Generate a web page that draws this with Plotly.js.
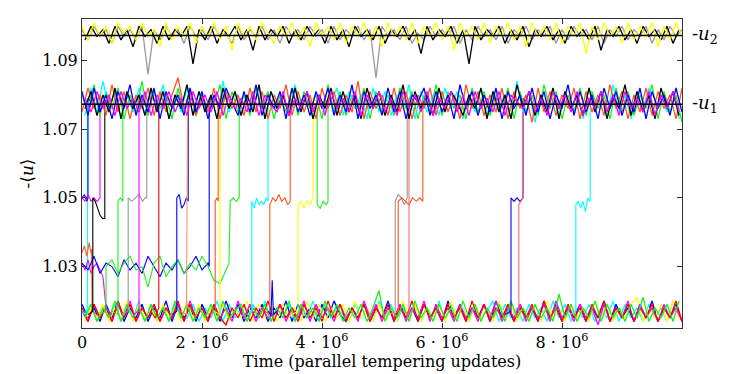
<!DOCTYPE html>
<html>
<head>
<meta charset="utf-8">
<script src="https://cdn.plot.ly/plotly-3.0.1.min.js"></script>
<style>
  body { margin: 0; background: #fff; }
  #myPlot { width: 747px; height: 374px; }
</style>
</head>
<body>
<div id="myPlot"></div>
<script>
// time axis in units of 10^6 parallel tempering updates
const T = [0,0.1,0.2,0.3,0.4,0.5,0.6,0.7,0.8,0.9,
  1,1.1,1.2,1.3,1.4,1.5,1.6,1.7,1.8,1.9,
  2,2.1,2.2,2.3,2.4,2.5,2.6,2.7,2.8,2.9,
  3,3.1,3.2,3.3,3.4,3.5,3.6,3.7,3.8,3.9,
  4,4.1,4.2,4.3,4.4,4.5,4.6,4.7,4.8,4.9,
  5,5.1,5.2,5.3,5.4,5.5,5.6,5.7,5.8,5.9,
  6,6.1,6.2,6.3,6.4,6.5,6.6,6.7,6.8,6.9,
  7,7.1,7.2,7.3,7.4,7.5,7.6,7.7,7.8,7.9,
  8,8.1,8.2,8.3,8.4,8.5,8.6,8.7,8.8,8.9,
  9,9.1,9.2,9.3,9.4,9.5,9.6,9.7,9.8,9.9,10];
// sampling times of the replicas recorded half a step later
const T2 = [0.05,0.15,0.25,0.35,0.45,0.55,0.65,0.75,0.85,0.95,
  1.05,1.15,1.25,1.35,1.45,1.55,1.65,1.75,1.85,1.95,
  2.05,2.15,2.25,2.35,2.45,2.55,2.65,2.75,2.85,2.95,
  3.05,3.15,3.25,3.35,3.45,3.55,3.65,3.75,3.85,3.95,
  4.05,4.15,4.25,4.35,4.45,4.55,4.65,4.75,4.85,4.95,
  5.05,5.15,5.25,5.35,5.45,5.55,5.65,5.75,5.85,5.95,
  6.05,6.15,6.25,6.35,6.45,6.55,6.65,6.75,6.85,6.95,
  7.05,7.15,7.25,7.35,7.45,7.55,7.65,7.75,7.85,7.95,
  8.05,8.15,8.25,8.35,8.45,8.55,8.65,8.75,8.85,8.95,
  9.05,9.15,9.25,9.35,9.45,9.55,9.65,9.75,9.85,9.95];

// reference levels
const u1 = 1.0773;
const u2 = 1.0973;

// -u2 band
const yellowTop = [1.100,1.096,1.101,1.097,1.100,1.095,1.101,1.098,1.100,1.096,
  1.101,1.097,1.099,1.094,1.101,1.096,1.100,1.097,1.101,1.095,
  1.100,1.097,1.101,1.096,1.100,1.093,1.101,1.097,1.100,1.096,
  1.101,1.098,1.095,1.100,1.097,1.101,1.096,1.100,1.094,1.101,
  1.097,1.100,1.096,1.101,1.095,1.100,1.097,1.101,1.096,1.100,
  1.094,1.101,1.097,1.100,1.096,1.101,1.095,1.100,1.097,1.101,
  1.096,1.100,1.093,1.101,1.097,1.100,1.096,1.101,1.095,1.100,
  1.097,1.101,1.096,1.100,1.094,1.101,1.097,1.100,1.096,1.101,
  1.095,1.100,1.097,1.101,1.092,1.100,1.096,1.101,1.097,1.100,
  1.095,1.101,1.096,1.100,1.097,1.101,1.094,1.100,1.096,1.101,1.097];
const blackTop = [1.096,1.100,1.097,1.099,1.095,1.100,1.096,1.099,1.094,1.100,
  1.097,1.099,1.095,1.100,1.096,1.099,1.097,1.100,1.089,1.099,
  1.096,1.100,1.095,1.099,1.097,1.100,1.096,1.099,1.093,1.100,
  1.096,1.099,1.097,1.100,1.095,1.099,1.096,1.100,1.097,1.099,
  1.095,1.100,1.096,1.099,1.094,1.100,1.097,1.099,1.096,1.100,
  1.095,1.099,1.097,1.100,1.096,1.099,1.092,1.100,1.096,1.099,
  1.097,1.100,1.095,1.099,1.089,1.100,1.096,1.099,1.097,1.100,
  1.095,1.099,1.096,1.100,1.094,1.099,1.097,1.100,1.096,1.099,
  1.095,1.100,1.097,1.099,1.096,1.100,1.093,1.099,1.097,1.100,
  1.096,1.099,1.095,1.100,1.097,1.099,1.096,1.100,1.095,1.099];
const grayTop = [1.099,1.096,1.100,1.097,1.099,1.095,1.100,1.097,1.099,1.096,
  1.100,1.086,1.099,1.096,1.100,1.097,1.099,1.095,1.100,1.097,
  1.099,1.096,1.100,1.097,1.098,1.095,1.100,1.096,1.099,1.097,
  1.100,1.096,1.099,1.095,1.100,1.097,1.099,1.096,1.100,1.097,
  1.099,1.095,1.100,1.096,1.099,1.097,1.100,1.096,1.099,1.085,
  1.100,1.097,1.099,1.096,1.100,1.095,1.098,1.096,1.100,1.097,
  1.099,1.097,1.100,1.095,1.099,1.096,1.100,1.097,1.099,1.096,
  1.100,1.095,1.099,1.097,1.100,1.096,1.099,1.097,1.100,1.095,
  1.099,1.096,1.100,1.097,1.099,1.096,1.100,1.095,1.099,1.097,
  1.100,1.096,1.099,1.097,1.100,1.095,1.099,1.096,1.100,1.097,1.099];

// -u1 band
const blueU1 = [1.081,1.074,1.082,1.075,1.080,1.073,1.081,1.076,1.083,1.074,
  1.080,1.075,1.082,1.073,1.081,1.076,1.080,1.074,1.082,1.075,
  1.081,1.073,1.080,1.076,1.082,1.078,1.074,1.081,1.075,1.083,
  1.074,1.080,1.076,1.081,1.073,1.082,1.075,1.080,1.074,1.081,
  1.076,1.082,1.074,1.080,1.075,1.083,1.073,1.081,1.076,1.080,
  1.074,1.082,1.075,1.081,1.073,1.080,1.078,1.082,1.074,1.081,
  1.075,1.080,1.073,1.083,1.076,1.081,1.074,1.080,1.075,1.082,
  1.073,1.081,1.076,1.080,1.074,1.082,1.075,1.081,1.073,1.080,
  1.076,1.083,1.074,1.081,1.075,1.080,1.073,1.082,1.076,1.081,
  1.074,1.080,1.075,1.082,1.073,1.081,1.076,1.080,1.074,1.082,1.075];
const cyanU1 = [1.074,1.082,1.075,1.084,1.076,1.081,1.073,1.080,1.075,1.082,
  1.074,1.081,1.076,1.083,1.073,1.080,1.075,1.082,1.074,1.081,
  1.076,1.080,1.073,1.084,1.075,1.081,1.074,1.080,1.076,1.082,
  1.073,1.081,1.075,1.080,1.074,1.083,1.076,1.081,1.073,1.080,
  1.075,1.078,1.082,1.074,1.081,1.076,1.080,1.073,1.082,1.075,
  1.081,1.074,1.080,1.076,1.083,1.073,1.081,1.075,1.080,1.074,
  1.082,1.076,1.081,1.073,1.080,1.075,1.082,1.074,1.081,1.076,
  1.080,1.073,1.084,1.075,1.081,1.072,1.080,1.076,1.082,1.074,
  1.081,1.075,1.080,1.073,1.082,1.076,1.081,1.074,1.083,1.075,
  1.080,1.073,1.081,1.076,1.082,1.074,1.080,1.075,1.081,1.073];
const greenU1 = [1.080,1.075,1.083,1.074,1.081,1.076,1.082,1.073,1.080,1.075,
  1.084,1.074,1.081,1.076,1.080,1.073,1.082,1.075,1.081,1.074,
  1.080,1.076,1.077,1.083,1.073,1.081,1.075,1.080,1.074,1.082,
  1.076,1.081,1.073,1.080,1.075,1.082,1.074,1.081,1.076,1.080,
  1.073,1.083,1.075,1.081,1.074,1.080,1.076,1.082,1.073,1.081,
  1.075,1.080,1.074,1.082,1.076,1.081,1.073,1.080,1.075,1.083,
  1.074,1.081,1.076,1.080,1.073,1.082,1.075,1.081,1.074,1.080,
  1.076,1.082,1.073,1.081,1.075,1.080,1.074,1.083,1.076,1.081,
  1.073,1.080,1.075,1.082,1.074,1.081,1.076,1.080,1.073,1.082,
  1.075,1.081,1.074,1.080,1.076,1.083,1.073,1.081,1.075,1.080,1.072];
const blackU1 = [1.076,1.081,1.074,1.080,1.075,1.082,1.073,1.081,1.076,1.080,
  1.074,1.082,1.075,1.081,1.073,1.080,1.076,1.083,1.074,1.081,
  1.075,1.080,1.073,1.082,1.076,1.081,1.074,1.080,1.075,1.083,
  1.073,1.081,1.076,1.080,1.074,1.082,1.075,1.081,1.073,1.080,
  1.076,1.082,1.074,1.081,1.075,1.080,1.073,1.082,1.076,1.081,
  1.074,1.080,1.075,1.083,1.073,1.081,1.076,1.080,1.074,1.082,
  1.075,1.081,1.078,1.074,1.080,1.076,1.082,1.073,1.081,1.075,
  1.080,1.073,1.083,1.076,1.081,1.074,1.080,1.075,1.082,1.073,
  1.081,1.076,1.080,1.074,1.082,1.075,1.081,1.073,1.080,1.076,
  1.083,1.074,1.081,1.075,1.080,1.073,1.082,1.076,1.081,1.074];
const orangeU1 = [1.075,1.082,1.076,1.080,1.074,1.083,1.075,1.081,1.073,1.080,
  1.076,1.082,1.074,1.081,1.075,1.080,1.085,1.076,1.081,1.074,
  1.080,1.075,1.082,1.073,1.081,1.076,1.080,1.074,1.082,1.075,
  1.081,1.073,1.080,1.076,1.083,1.074,1.081,1.075,1.080,1.073,
  1.082,1.076,1.081,1.074,1.080,1.075,1.084,1.073,1.081,1.076,
  1.080,1.074,1.082,1.075,1.081,1.073,1.080,1.076,1.082,1.074,
  1.081,1.075,1.080,1.073,1.083,1.076,1.081,1.074,1.080,1.075,
  1.082,1.073,1.081,1.076,1.080,1.072,1.082,1.075,1.081,1.074,
  1.080,1.076,1.082,1.073,1.081,1.075,1.080,1.074,1.083,1.076,
  1.081,1.073,1.080,1.075,1.082,1.074,1.081,1.076,1.080,1.073,1.082];
const magentaU1 = [1.079,1.075,1.081,1.076,1.080,1.074,1.081,1.076,1.079,1.075,
  1.081,1.074,1.080,1.076,1.081,1.075,1.079,1.074,1.081,1.076,
  1.080,1.075,1.081,1.074,1.080,1.076,1.079,1.075,1.081,1.074,
  1.080,1.077,1.075,1.081,1.074,1.079,1.076,1.081,1.075,1.080,
  1.074,1.081,1.076,1.079,1.075,1.081,1.074,1.080,1.076,1.081,
  1.075,1.079,1.074,1.081,1.076,1.080,1.075,1.081,1.074,1.079,
  1.076,1.081,1.075,1.080,1.074,1.081,1.076,1.079,1.075,1.081,
  1.074,1.080,1.078,1.076,1.081,1.075,1.079,1.074,1.081,1.076,
  1.080,1.075,1.081,1.074,1.079,1.076,1.081,1.075,1.080,1.074,
  1.081,1.076,1.079,1.075,1.081,1.074,1.080,1.076,1.081,1.075];

// lowest band
const redLow = [1.018,1.014,1.019,1.015,1.018,1.014,1.020,1.015,1.019,1.014,
  1.018,1.015,1.019,1.014,1.018,1.015,1.020,1.014,1.019,1.015,
  1.018,1.014,1.019,1.015,1.013,1.018,1.015,1.019,1.014,1.018,
  1.015,1.020,1.014,1.019,1.015,1.018,1.014,1.019,1.015,1.018,
  1.014,1.020,1.015,1.019,1.014,1.018,1.015,1.019,1.014,1.018,
  1.015,1.019,1.014,1.018,1.015,1.020,1.014,1.019,1.015,1.018,
  1.014,1.019,1.015,1.018,1.014,1.020,1.015,1.019,1.014,1.018,
  1.015,1.019,1.014,1.018,1.015,1.019,1.014,1.020,1.015,1.018,
  1.014,1.019,1.015,1.018,1.014,1.019,1.015,1.020,1.014,1.018,
  1.015,1.019,1.014,1.018,1.015,1.019,1.014,1.018,1.015,1.020,1.014];
const greenLow = [1.015,1.019,1.014,1.018,1.015,1.020,1.014,1.019,1.015,1.018,
  1.014,1.019,1.015,1.018,1.014,1.020,1.015,1.019,1.014,1.018,
  1.015,1.019,1.014,1.020,1.015,1.017,1.019,1.014,1.018,1.015,
  1.019,1.014,1.018,1.015,1.020,1.014,1.019,1.015,1.018,1.014,
  1.020,1.015,1.019,1.014,1.018,1.015,1.019,1.014,1.018,1.023,
  1.014,1.018,1.015,1.019,1.014,1.020,1.015,1.018,1.014,1.019,
  1.015,1.018,1.014,1.020,1.015,1.019,1.014,1.018,1.015,1.019,
  1.014,1.020,1.015,1.018,1.014,1.019,1.015,1.018,1.014,1.022,
  1.015,1.019,1.014,1.018,1.015,1.020,1.014,1.019,1.015,1.018,
  1.014,1.019,1.015,1.021,1.014,1.018,1.015,1.019,1.014,1.020];
const magentaLow = [1.017,1.014,1.019,1.015,1.018,1.014,1.019,1.015,1.020,1.014,
  1.018,1.015,1.019,1.014,1.018,1.015,1.019,1.014,1.020,1.015,
  1.018,1.014,1.019,1.015,1.018,1.014,1.020,1.015,1.019,1.014,
  1.018,1.015,1.016,1.019,1.014,1.018,1.015,1.020,1.014,1.019,
  1.015,1.018,1.014,1.019,1.015,1.018,1.014,1.020,1.015,1.019,
  1.014,1.018,1.015,1.019,1.014,1.018,1.015,1.020,1.014,1.019,
  1.015,1.018,1.014,1.019,1.015,1.018,1.014,1.019,1.015,1.020,
  1.014,1.018,1.015,1.019,1.014,1.018,1.015,1.019,1.014,1.020,
  1.015,1.018,1.014,1.019,1.015,1.018,1.013,1.019,1.014,1.018,
  1.015,1.020,1.014,1.019,1.015,1.018,1.014,1.019,1.015,1.018,1.014];
const blueLow = [1.019,1.015,1.018,1.014,1.019,1.015,1.020,1.014,1.018,1.015,
  1.019,1.014,1.018,1.015,1.020,1.014,1.019,1.015,1.018,1.014,
  1.019,1.015,1.018,1.014,1.020,1.015,1.019,1.014,1.018,1.015,
  1.019,1.014,1.018,1.015,1.020,1.014,1.019,1.015,1.018,1.014,
  1.019,1.015,1.020,1.016,1.014,1.018,1.015,1.019,1.014,1.018,
  1.015,1.020,1.014,1.019,1.015,1.018,1.014,1.019,1.015,1.018,
  1.014,1.020,1.015,1.019,1.014,1.018,1.015,1.019,1.014,1.020,
  1.015,1.018,1.014,1.019,1.015,1.018,1.014,1.020,1.015,1.019,
  1.014,1.018,1.015,1.019,1.014,1.018,1.015,1.020,1.014,1.019,
  1.015,1.018,1.014,1.019,1.015,1.020,1.014,1.018,1.015,1.019,1.014];
const yellowLow = [1.014,1.018,1.015,1.019,1.014,1.018,1.015,1.020,1.014,1.019,
  1.015,1.018,1.014,1.019,1.015,1.018,1.014,1.020,1.015,1.019,
  1.014,1.018,1.015,1.019,1.014,1.018,1.015,1.020,1.014,1.019,
  1.015,1.018,1.014,1.019,1.015,1.018,1.014,1.020,1.015,1.019,
  1.014,1.018,1.015,1.019,1.014,1.020,1.015,1.018,1.014,1.019,
  1.015,1.018,1.014,1.020,1.015,1.019,1.014,1.018,1.015,1.019,
  1.014,1.020,1.015,1.018,1.014,1.019,1.015,1.018,1.014,1.020,
  1.015,1.019,1.014,1.018,1.015,1.019,1.014,1.020,1.015,1.018,
  1.014,1.019,1.015,1.018,1.014,1.020,1.015,1.019,1.014,1.018,
  1.015,1.019,1.021,1.014,1.018,1.015,1.019,1.014,1.020,1.015];
const cyanLow = [1.016,1.019,1.014,1.018,1.015,1.019,1.014,1.018,1.015,1.020,
  1.014,1.019,1.015,1.018,1.014,1.019,1.016,1.015,1.019,1.014,
  1.018,1.015,1.020,1.014,1.019,1.015,1.018,1.014,1.019,1.015,
  1.020,1.014,1.018,1.015,1.019,1.014,1.018,1.015,1.020,1.014,
  1.019,1.015,1.018,1.016,1.014,1.019,1.015,1.018,1.014,1.020,
  1.015,1.019,1.014,1.018,1.015,1.019,1.014,1.018,1.015,1.020,
  1.014,1.019,1.015,1.018,1.014,1.019,1.015,1.017,1.020,1.014,
  1.019,1.015,1.018,1.014,1.019,1.015,1.018,1.014,1.020,1.015,
  1.019,1.014,1.018,1.015,1.019,1.014,1.018,1.015,1.020,1.014,
  1.019,1.015,1.018,1.014,1.019,1.015,1.018,1.014,1.020,1.015];

// replicas that change level (time, value)
const cyanAT = [0,0.05,0.09,0.09,0.15,0.2];
const cyanAV = [1.017,1.016,1.018,1.079,1.077,1.080];
const magentaAT = [0,0.05,0.1,0.15,0.2,0.25,0.3,0.3,0.36];
const magentaAV = [1.050,1.049,1.051,1.049,1.050,1.049,1.050,1.078,1.077];
const blueAT = [0,0.04,0.08,0.1,0.1,0.15];
const blueAV = [1.050,1.051,1.049,1.050,1.079,1.078];
const blueBT = [0,0.1,0.2,0.3,0.4,0.5,0.6,0.7,0.8,0.9,1,1.1,1.2,1.3,1.4,1.5,1.6,1.7,1.8,1.9,2,2.1,2.12,2.12,2.2];
const blueBV = [1.031,1.029,1.033,1.028,1.031,1.030,1.027,1.032,1.029,1.031,1.028,1.033,1.030,1.027,1.031,1.029,1.032,1.028,1.030,1.033,1.029,1.031,1.030,1.079,1.078];
const magentaBT = [0,0.05,0.1,0.15,0.2,0.25,0.3,0.35,0.4,0.45,0.5];
const magentaBV = [1.031,1.029,1.032,1.028,1.030,1.031,1.029,1.027,1.018,1.017,1.016];
const orangeAT = [0,0.04,0.08,0.12,0.15,0.16,0.17,0.25];
const orangeAV = [1.034,1.036,1.033,1.037,1.034,1.035,1.017,1.016];
const blackBT = [0.1,0.18,0.18,0.22,0.26,0.3,0.34,0.38,0.38,0.45];
const blackBV = [1.016,1.017,1.050,1.049,1.047,1.045,1.044,1.044,1.078,1.077];
const greenAT = [0.5,0.6,0.6,0.64,0.68,0.68,0.75];
const greenAV = [1.017,1.016,1.049,1.050,1.049,1.079,1.078];
const grayBT = [0.65,0.77,0.77,0.83,0.89,0.95,1.01,1.05,1.08,1.08,1.15];
const grayBV = [1.016,1.017,1.050,1.049,1.050,1.051,1.049,1.050,1.050,1.078,1.079];
const magentaCT = [0.85,0.95,0.95,1.05];
const magentaCV = [1.016,1.017,1.079,1.077];
const greenBT = [0.3,0.4,0.4,0.5,0.6,0.7,0.8,0.9,1.0,1.1,1.2,1.3,1.4,1.5,1.6,1.7,1.8,1.9,2.0,2.1,2.2,2.3,2.4,2.45,2.47,2.52,2.57,2.62,2.62,2.7];
const greenBV = [1.016,1.017,1.030,1.032,1.028,1.031,1.033,1.029,1.030,1.024,1.031,1.033,1.027,1.030,1.032,1.028,1.031,1.029,1.033,1.030,1.026,1.025,1.029,1.031,1.049,1.050,1.049,1.050,1.079,1.077];
const redAT = [1.15,1.22,1.28,1.28,1.35,1.42];
const redAV = [1.017,1.015,1.018,1.079,1.076,1.079];
const blueCT = [1.5,1.58,1.58,1.62,1.66,1.7,1.74,1.77,1.77,1.85];
const blueCV = [1.016,1.017,1.050,1.051,1.047,1.048,1.050,1.049,1.078,1.077];
const salmonAT = [1.65,1.74,1.76,1.85];
const salmonAV = [1.017,1.016,1.079,1.077];
const orangeCT = [2.1,2.22,2.22,2.25,2.27,2.27,2.35];
const orangeCV = [1.016,1.017,1.049,1.050,1.049,1.078,1.077];
const yellowBT = [2.2,2.3,2.3,2.4];
const yellowBV = [1.017,1.016,1.079,1.078];
const cyanBT = [2.75,2.83,2.83,2.87,2.91,2.95,2.99,3.03,3.07,3.1,3.1,3.18];
const cyanBV = [1.016,1.017,1.049,1.047,1.050,1.048,1.049,1.048,1.050,1.049,1.078,1.077];
const orangeDT = [3.05,3.13,3.13,3.18,3.23,3.28,3.33,3.38,3.43,3.47,3.47,3.55];
const orangeDV = [1.017,1.016,1.048,1.050,1.049,1.051,1.049,1.050,1.048,1.049,1.079,1.077];
const yellowCT = [3.5,3.6,3.6,3.65,3.7,3.75,3.8,3.85,3.85,3.92];
const yellowCV = [1.016,1.017,1.048,1.049,1.047,1.049,1.048,1.050,1.079,1.078];
const greenCT = [3.85,3.92,3.92,3.97,4.02,4.07,4.1,4.1,4.18];
const greenCV = [1.078,1.076,1.048,1.047,1.049,1.048,1.049,1.078,1.079];
const blueSpikeT = [3.1,3.15,3.17,3.19,3.25];
const blueSpikeV = [1.017,1.016,1.026,1.016,1.017];
const grayCT = [5.12,5.22,5.22,5.27,5.32,5.37,5.42,5.42,5.5];
const grayCV = [1.016,1.017,1.049,1.051,1.050,1.048,1.050,1.078,1.077];
const orangeET = [5.2,5.27,5.27,5.33,5.39,5.45,5.51,5.57,5.63,5.68,5.68,5.75];
const orangeEV = [1.016,1.017,1.049,1.050,1.049,1.048,1.050,1.049,1.050,1.049,1.079,1.077];
const redBT = [5.35,5.45,5.45,5.55];
const redBV = [1.017,1.016,1.079,1.077];
const blueDT = [7.05,7.15,7.15,7.2,7.25,7.3,7.35,7.35,7.43];
const blueDV = [1.016,1.017,1.050,1.049,1.050,1.049,1.050,1.079,1.077];
const redCT = [7.2,7.28,7.28,7.31,7.35,7.35,7.43];
const redCV = [1.017,1.016,1.048,1.049,1.050,1.078,1.077];
const cyanCT = [8.13,8.23,8.23,8.27,8.31,8.35,8.39,8.43,8.47,8.47,8.55];
const cyanCV = [1.016,1.017,1.048,1.049,1.047,1.049,1.046,1.050,1.049,1.078,1.077];

const xTicks = [0, 2, 4, 6, 8];
const xTickText = ["0", "2 · 10<sup>6</sup>", "4 · 10<sup>6</sup>", "6 · 10<sup>6</sup>", "8 · 10<sup>6</sup>"];
const yTicks = [1.03, 1.05, 1.07, 1.09];

const BLUE = "#0000ff", GREEN = "#1ef01e", RED = "#ff0000", CYAN = "#00ffff",
  MAGENTA = "#ff00ff", YELLOW = "#ffff00", BLACK = "#000000", GRAY = "#999999",
  ORANGE = "#ff5522", SALMON = "#ff9070", LIGHTRED = "#ff6b6b";

function line(x, y, color, width) {
  return {
    x: x, y: y, type: "scatter", mode: "lines",
    line: { color: color, width: width || 1.1 },
    hoverinfo: "skip",
  };
}

const BAND = 1.3;

const data = [
  // lowest band
  line(T2, cyanLow, CYAN, BAND),
  line(T, blueLow, BLUE, BAND),
  line(T2, yellowLow, YELLOW, BAND),
  line(T, magentaLow, MAGENTA, BAND),
  line(T, redLow, RED, BAND),
  line(T2, greenLow, GREEN, BAND),
  // level changes
  line(cyanAT, cyanAV, CYAN),
  line(blueAT, blueAV, BLUE),
  line(magentaBT, magentaBV, MAGENTA),
  line(orangeAT, orangeAV, ORANGE),
  line(blueBT, blueBV, BLUE),
  line(greenBT, greenBV, GREEN),
  line(magentaAT, magentaAV, MAGENTA),
  line(blackBT, blackBV, BLACK),
  line(greenAT, greenAV, GREEN),
  line(grayBT, grayBV, GRAY),
  line(magentaCT, magentaCV, MAGENTA),
  line(redAT, redAV, RED),
  line(blueCT, blueCV, BLUE),
  line(salmonAT, salmonAV, SALMON),
  line(orangeCT, orangeCV, ORANGE),
  line(yellowBT, yellowBV, YELLOW),
  line(cyanBT, cyanBV, CYAN),
  line(orangeDT, orangeDV, ORANGE),
  line(yellowCT, yellowCV, YELLOW),
  line(greenCT, greenCV, GREEN),
  line(blueSpikeT, blueSpikeV, BLUE),
  line(grayCT, grayCV, GRAY),
  line(orangeET, orangeEV, ORANGE),
  line(redBT, redBV, LIGHTRED),
  line(blueDT, blueDV, BLUE),
  line(redCT, redCV, LIGHTRED),
  line(cyanCT, cyanCV, CYAN),
  // -u1 band
  line(T, greenU1, GREEN, BAND),
  line(T2, cyanU1, CYAN, BAND),
  line(T, orangeU1, ORANGE, BAND),
  line(T2, blackU1, BLACK, BAND),
  line(T, blueU1, BLUE, BAND),
  line(T2, magentaU1, MAGENTA, BAND),
  // -u2 band
  line(T, grayTop, GRAY, BAND),
  line(T2, blackTop, BLACK, BAND),
  line(T, yellowTop, YELLOW, BAND),
  // ground state references
  line([0, 10], [u1, u1], BLACK, 1.5),
  line([0, 10], [u2, u2], BLACK, 1.5),
];

const font = { family: "DejaVu Serif, serif", size: 16, color: "#000" };

const layout = {
  width: 747,
  height: 374,
  margin: { l: 82, r: 65, t: 19, b: 46 },
  paper_bgcolor: "#fff",
  plot_bgcolor: "#fff",
  showlegend: false,
  hovermode: false,
  font: font,
  xaxis: {
    range: [0, 10],
    tickvals: xTicks,
    ticktext: xTickText,
    ticks: "inside",
    ticklen: 5,
    tickcolor: "#333",
    showline: true,
    linecolor: "#333",
    linewidth: 1,
    mirror: "ticks",
    showgrid: false,
    zeroline: false,
    tickfont: font,
    title: { text: "Time (parallel tempering updates)", font: { family: font.family, size: 16 }, standoff: 4 },
  },
  yaxis: {
    range: [1.0121, 1.1021],
    tickvals: yTicks,
    ticks: "inside",
    ticklen: 5,
    tickcolor: "#333",
    showline: true,
    linecolor: "#333",
    linewidth: 1,
    mirror: "ticks",
    showgrid: false,
    zeroline: false,
    tickfont: font,
    title: { text: "-⟨<i>u</i>⟩", font: { family: font.family, size: 17 }, standoff: 4 },
  },
  annotations: [
    {
      xref: "paper", yref: "y", x: 1, y: u2, xanchor: "left", yanchor: "middle",
      xshift: 8, showarrow: false, text: "-<i>u</i><sub>2</sub>",
      font: { family: font.family, size: 18 },
    },
    {
      xref: "paper", yref: "y", x: 1, y: u1, xanchor: "left", yanchor: "middle",
      xshift: 8, showarrow: false, text: "-<i>u</i><sub>1</sub>",
      font: { family: font.family, size: 18 },
    },
  ],
};

Plotly.newPlot("myPlot", data, layout, { staticPlot: true, displayModeBar: false });
</script>
</body>
</html>
